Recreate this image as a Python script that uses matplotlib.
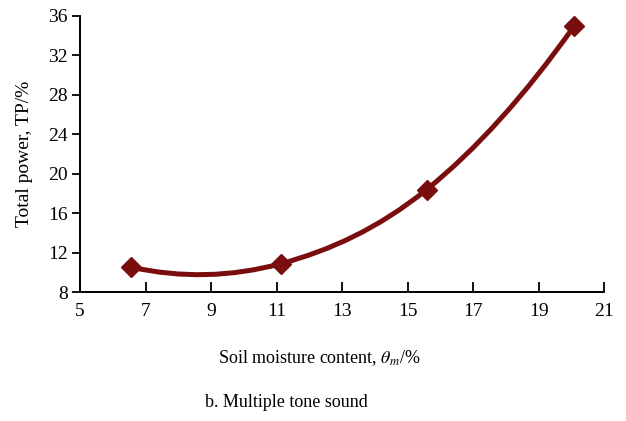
import matplotlib
matplotlib.use('Agg')
import matplotlib.pyplot as plt
from matplotlib.path import Path
from matplotlib.patches import PathPatch
import numpy as np

plt.rcParams['font.family'] = 'Liberation Serif'
plt.rcParams['mathtext.fontset'] = 'stix'

moisture = [6.56, 11.14, 15.58, 20.09]
total_power = [10.54, 10.9, 18.4, 35.0]
x_ticks = [5, 7, 9, 11, 13, 15, 17, 19, 21]
y_ticks = [8, 12, 16, 20, 24, 28, 32, 36]
color = '#7a0d0d'


def smooth_path(xs, ys):
    # smoothed line through the points, drawn as cubic bezier segments
    x = np.asarray(xs, float)
    y = np.asarray(ys, float)
    h = np.diff(x)
    d = np.diff(y) / h
    m = np.zeros(len(x))
    m[1:-1] = (d[:-1] * h[1:] + d[1:] * h[:-1]) / (h[:-1] + h[1:])
    m[0] = 2 * d[0] - m[1]
    m[-1] = 2 * d[-1] - m[-2]
    verts = [(x[0], y[0])]
    codes = [Path.MOVETO]
    for i in range(len(x) - 1):
        s = h[i] / 3
        verts += [(x[i] + s, y[i] + s * m[i]),
                  (x[i + 1] - s, y[i + 1] - s * m[i + 1]),
                  (x[i + 1], y[i + 1])]
        codes += [Path.CURVE4] * 3
    return Path(verts, codes)


fig = plt.figure(figsize=(6.26, 4.21), dpi=100)
ax = fig.add_axes([0.128, 0.306, 0.837, 0.656])

patch = PathPatch(smooth_path(moisture, total_power), facecolor='none',
                  edgecolor=color, lw=3.6, capstyle='round')
ax.add_patch(patch)
ax.plot(moisture, total_power, linestyle='none', marker='D', markersize=10,
        color=color)

ax.set_xlim(5, 21)
ax.set_ylim(8, 36)
ax.set_xticks(x_ticks)
ax.set_yticks(y_ticks)
ax.tick_params(axis='x', direction='in', length=7, width=1.3, labelsize=14, pad=8)
ax.tick_params(axis='y', direction='out', length=6, width=1.3, labelsize=14, pad=3)
for s in ['top', 'right']:
    ax.spines[s].set_visible(False)
for s in ['left', 'bottom']:
    ax.spines[s].set_linewidth(1.4)

ax.set_ylabel('Total power, TP/%', fontsize=14)
ax.yaxis.set_label_coords(-0.09, 0.5)
fig.text(0.511, 0.15, r'Soil moisture content, $\theta_m$/%', fontsize=13,
         ha='center', va='center')
fig.text(0.458, 0.043, 'b. Multiple tone sound', fontsize=13,
         ha='center', va='center')

fig.savefig('out.png', dpi=100)
